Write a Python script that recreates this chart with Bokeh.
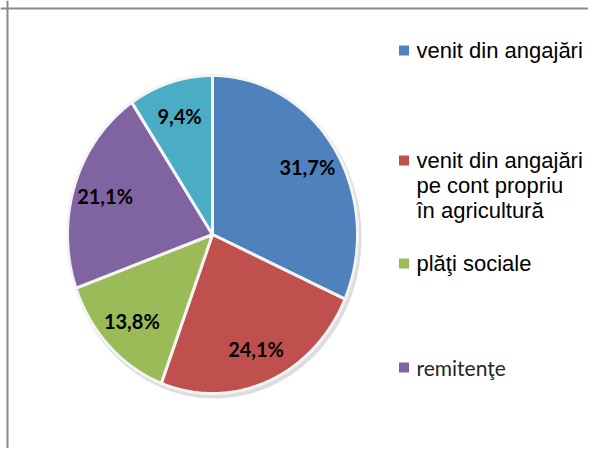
import numpy as np
from bokeh.plotting import figure
from bokeh.models import Range1d, Span
from bokeh.core.properties import value
from bokeh.embed import file_html
from bokeh.resources import INLINE

# ---- data ----
shares = [31.7, 24.1, 13.8, 21.1, 9.4]
share_labels = ["31,7%", "24,1%", "13,8%", "21,1%", "9,4%"]
colors = ["#4F81BD", "#C0504D", "#9BBB59", "#8064A2", "#4BACC6"]
legend_labels = [
    ["venit din angajări"],
    ["venit din angajări", "pe cont propriu", "în agricultură"],
    ["plăţi sociale"],
    ["remitenţe"],
]

# ---- layout (pixel-like data coordinates) ----
W, H = 588, 448
cx, cy = 212, 214          # pie centre
rx, ry = 145, 159          # pie radii (stretched)
label_r = 0.78
leg_sq_x, leg_text_x = 403.5, 416
leg_y = [398, 288, 185, 81]    # centres of first line of each legend item
line_gap = 25

p = figure(width=W, height=H, x_range=Range1d(0, W), y_range=Range1d(0, H),
           output_backend="svg", toolbar_location=None, min_border=0,
           background_fill_color="white", border_fill_color="white")
p.axis.visible = False
p.grid.visible = False
p.outline_line_color = None

# frame (left and top edges)
p.add_layout(Span(location=7, dimension="height", line_color="#8a8a8a", line_width=2))
p.add_layout(Span(location=440, dimension="width", line_color="#8a8a8a", line_width=2))

# shadow
t = np.linspace(0, 2 * np.pi, 200)
p.patch(cx + 2 + (rx + 2) * np.cos(t), cy - 3 + (ry + 2) * np.sin(t),
        fill_color="#d4d4d4", line_color=None, fill_alpha=0.8)

# pie slices
total = sum(shares)
fr = np.array(shares) / total
cum = np.concatenate([[0], np.cumsum(fr)])
xs, ys, lx, ly = [], [], [], []
for i in range(len(shares)):
    a = np.linspace(np.pi / 2 - 2 * np.pi * cum[i], np.pi / 2 - 2 * np.pi * cum[i + 1], 120)
    xs.append(np.concatenate([[cx], cx + rx * np.cos(a)]).tolist())
    ys.append(np.concatenate([[cy], cy + ry * np.sin(a)]).tolist())
    m = np.pi / 2 - 2 * np.pi * (cum[i] + cum[i + 1]) / 2
    lx.append(cx + label_r * rx * np.cos(m))
    ly.append(cy + label_r * ry * np.sin(m))

p.patches(xs, ys, fill_color=colors, line_color="#f4f4f4", line_width=3)

p.text(x=lx, y=ly, text=share_labels, text_font=value("Lato"), text_font_style="bold",
       text_font_size="20px", text_color="black", text_align="center", text_baseline="middle")

# legend
for i, lines in enumerate(legend_labels):
    p.scatter([leg_sq_x], [leg_y[i]], marker="square", size=10, fill_color=colors[i], line_color=None)
    ys_l = [leg_y[i] - k * line_gap for k in range(len(lines))]
    if i == 3:
        p.text(x=[leg_text_x] * len(lines), y=ys_l, text=lines, text_font=value("Lato"),
               text_font_size="21px", text_color="#262626", text_baseline="middle")
    else:
        p.text(x=[leg_text_x] * len(lines), y=ys_l, text=lines, text_font=value("Liberation Sans"),
               text_font_size="22px", text_color="black", text_baseline="middle")

open("out.html", "w").write(file_html(p, INLINE))
